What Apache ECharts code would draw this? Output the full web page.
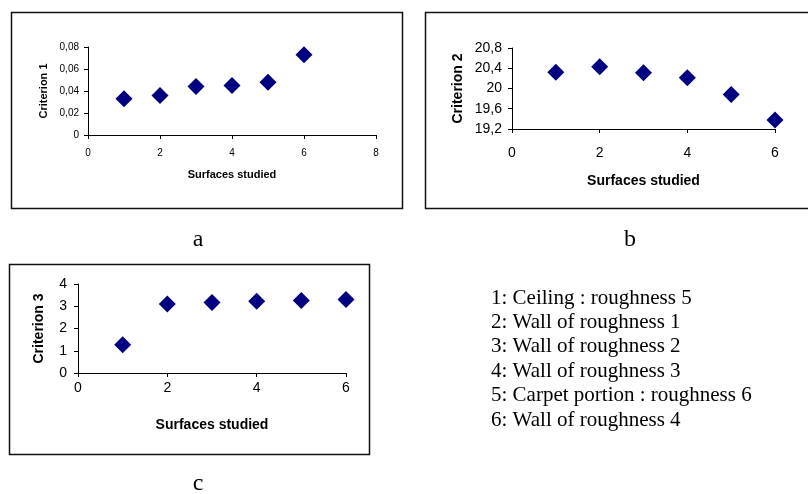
<!DOCTYPE html>
<html>
<head>
<meta charset="utf-8">
<script src="https://cdn.jsdelivr.net/npm/echarts@6/dist/echarts.min.js"></script>
<style>
  html, body { margin: 0; padding: 0; background: #fff; }
  #main { width: 808px; height: 494px; }
</style>
</head>
<body>
<div id="main"></div>
<script>
// values
var surfaces = [1, 2, 3, 4, 5, 6];
var criterion1 = [0.033, 0.036, 0.044, 0.045, 0.048, 0.073];
var criterion2 = [20.32, 20.43, 20.31, 20.21, 19.88, 19.38];
var criterion3 = [1.27, 3.10, 3.17, 3.22, 3.26, 3.30];
var legendLines = [
  '1: Ceiling : roughness 5',
  '2: Wall of roughness 1',
  '3: Wall of roughness 2',
  '4: Wall of roughness 3',
  '5: Carpet portion : roughness 6',
  '6: Wall of roughness 4'
];
var captions = ['a', 'b', 'c'];

var sans = 'Liberation Sans, Arial, sans-serif';
var serif = 'Liberation Serif, Times New Roman, serif';

function comma(v) {
  return String(+v.toFixed(3)).replace('.', ',');
}
function pairs(ys) {
  return surfaces.map(function (s, i) { return [s, ys[i]]; });
}

// one panel = grid + x axis + y axis + scatter
var panels = [
  { grid: { left: 88, top: 47, width: 288, height: 88 },
    xMax: 8, yMin: 0, yMax: 0.08, yStep: 0.02, name: 'Criterion 1', data: criterion1,
    font: 10, nameFont: 11, xMargin: 13, yMargin: 9, xGap: 34, yGap: 39 },
  { grid: { left: 512, top: 48, width: 263, height: 81 },
    xMax: 6, yMin: 19.2, yMax: 20.8, yStep: 0.4, name: 'Criterion 2', data: criterion2,
    font: 14, nameFont: 14, xMargin: 17, yMargin: 10, xGap: 45, yGap: 47 },
  { grid: { left: 78, top: 284, width: 268, height: 89 },
    xMax: 6, yMin: 0, yMax: 4, yStep: 1, name: 'Criterion 3', data: criterion3,
    font: 14, nameFont: 14, xMargin: 8, yMargin: 11, xGap: 45, yGap: 32 }
];

var axisLine = { show: true, onZero: false, lineStyle: { color: '#000', width: 1 } };
var axisTick = { show: true, length: 4, inside: false, lineStyle: { color: '#000' } };

var grids = [], xAxes = [], yAxes = [], series = [];
panels.forEach(function (p, i) {
  grids.push(Object.assign({ containLabel: false, outerBoundsMode: 'none' }, p.grid));
  xAxes.push({
    gridIndex: i, type: 'value', min: 0, max: p.xMax, interval: 2,
    name: 'Surfaces studied', nameLocation: 'middle', nameGap: p.xGap,
    nameTextStyle: { fontFamily: sans, fontSize: p.nameFont, fontWeight: 'bold', color: '#000' },
    axisLine: axisLine, axisTick: axisTick, splitLine: { show: false },
    axisLabel: { fontFamily: sans, fontSize: p.font, color: '#000', margin: p.xMargin }
  });
  yAxes.push({
    gridIndex: i, type: 'value', min: p.yMin, max: p.yMax, interval: p.yStep,
    name: p.name, nameLocation: 'middle', nameGap: p.yGap,
    nameTextStyle: { fontFamily: sans, fontSize: p.nameFont, fontWeight: 'bold', color: '#000' },
    axisLine: axisLine, axisTick: axisTick, splitLine: { show: false },
    axisLabel: { fontFamily: sans, fontSize: p.font, color: '#000', margin: p.yMargin, formatter: comma }
  });
  series.push({
    type: 'scatter', xAxisIndex: i, yAxisIndex: i,
    symbol: 'diamond', symbolSize: 17,
    itemStyle: { color: '#000080', opacity: 1 },
    data: pairs(p.data)
  });
});

var frames = [
  { x: 11.5, y: 12.5, width: 391, height: 196 },
  { x: 425.5, y: 12.5, width: 390, height: 196 },
  { x: 9.5, y: 264.5, width: 360, height: 190 }
];
var graphics = frames.map(function (f) {
  return { type: 'rect', shape: f, silent: true,
    style: { fill: 'none', stroke: '#111', lineWidth: 1.5 } };
});

var captionPos = [[198, 240], [630, 240], [198, 484]];
captions.forEach(function (c, i) {
  graphics.push({ type: 'text', x: captionPos[i][0], y: captionPos[i][1],
    style: { text: c, font: '24px ' + serif, fill: '#000', align: 'center', verticalAlign: 'middle' } });
});

legendLines.forEach(function (t, i) {
  graphics.push({ type: 'text', x: 491, y: 298 + i * 24.4,
    style: { text: t, font: '21px ' + serif, fill: '#000', align: 'left', verticalAlign: 'middle' } });
});

var chart = echarts.init(document.getElementById('main'), null, { renderer: 'canvas' });
chart.setOption({
  animation: false,
  backgroundColor: '#fff',
  grid: grids,
  xAxis: xAxes,
  yAxis: yAxes,
  series: series,
  graphic: graphics
});
</script>
</body>
</html>
